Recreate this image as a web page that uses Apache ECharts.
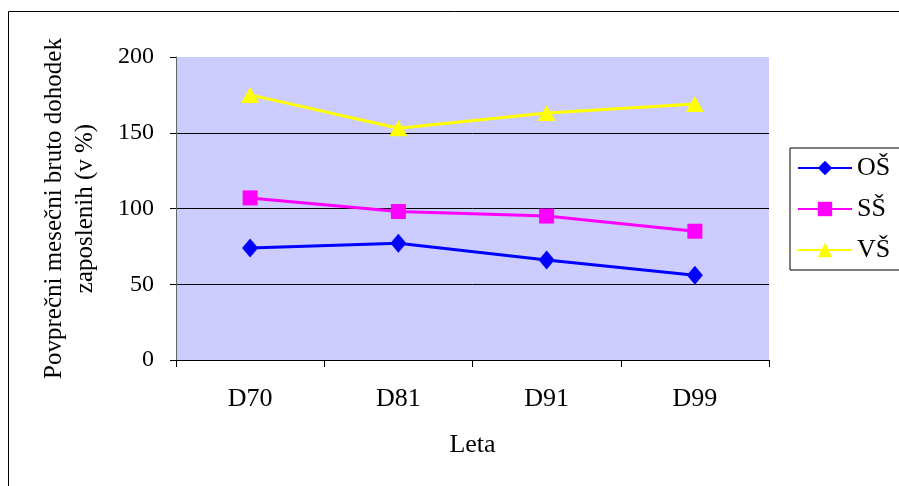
<!DOCTYPE html>
<html><head><meta charset="utf-8">
<script src="https://cdn.jsdelivr.net/npm/echarts@6/dist/echarts.min.js"></script>
<style>html,body{margin:0;padding:0;background:#fff}#c{width:899px;height:486px}</style>
</head><body><div id="c"></div>
<script>
const categories = ['D70','D81','D91','D99'];
const seriesNames = ['OŠ','SŠ','VŠ'];
const osValues = [74, 77, 66, 56];
const ssValues = [107, 98, 95, 85];
const vsValues = [175, 153, 163, 169];
const yTicks = [0, 50, 100, 150, 200];

const font = 'Liberation Serif, Times New Roman, serif';
const chart = echarts.init(document.getElementById('c'));
chart.setOption({
  backgroundColor: '#fff',
  animation: false,
  graphic: [{type:'rect', shape:{x:8.5,y:11.5,width:1000,height:600}, style:{fill:'none',stroke:'#000',lineWidth:1}, z:-10}],
  grid: {left:176, top:57, right:130, bottom:126, show:true, backgroundColor:'#CCCCFF', borderWidth:0},
  legend: {
    orient:'vertical', left:790, top:148,
    data: seriesNames,
    borderColor:'#000', borderWidth:1,
    padding:[7, 40, 7, 7],
    itemWidth:54, itemHeight:18, itemGap:15,
    textStyle:{fontFamily:font, fontSize:26, color:'#000'}
  },
  xAxis: {
    type:'category', data:categories, boundaryGap:true,
    name:'Leta', nameLocation:'middle', nameGap:72,
    nameTextStyle:{fontFamily:font, fontSize:26, color:'#000'},
    axisLine:{lineStyle:{color:'#000', width:1}},
    axisTick:{show:true, length:7, lineStyle:{color:'#000'}},
    axisLabel:{fontFamily:font, fontSize:26, color:'#000', margin:26}
  },
  yAxis: {
    type:'value', min:yTicks[0], max:yTicks[yTicks.length-1], interval:50,
    name:'Povprečni mesečni bruto dohodek\nzaposlenih (v %)', nameLocation:'middle', nameGap:75, nameRotate:90,
    nameTextStyle:{fontFamily:font, fontSize:25, color:'#000', lineHeight:31},
    axisLine:{show:true, lineStyle:{color:'#666', width:1}},
    axisTick:{show:true, length:6, lineStyle:{color:'#000'}},
    axisLabel:{fontFamily:font, fontSize:24, color:'#000', margin:22},
    splitLine:{show:true, lineStyle:{color:['transparent','#000','#000','#000','transparent'], width:1}}
  },
  series: [
    {name:seriesNames[0], type:'line', data:osValues, symbol:'diamond', symbolSize:[16,19],
     itemStyle:{color:'#0000FF'}, lineStyle:{color:'#0000FF', width:3}},
    {name:seriesNames[1], type:'line', data:ssValues, symbol:'rect', symbolSize:15,
     itemStyle:{color:'#FF00FF'}, lineStyle:{color:'#FF00FF', width:3}},
    {name:seriesNames[2], type:'line', data:vsValues, symbol:'triangle', symbolSize:[18,16],
     itemStyle:{color:'#FFFF00'}, lineStyle:{color:'#FFFF00', width:3}}
  ]
});
</script></body></html>
